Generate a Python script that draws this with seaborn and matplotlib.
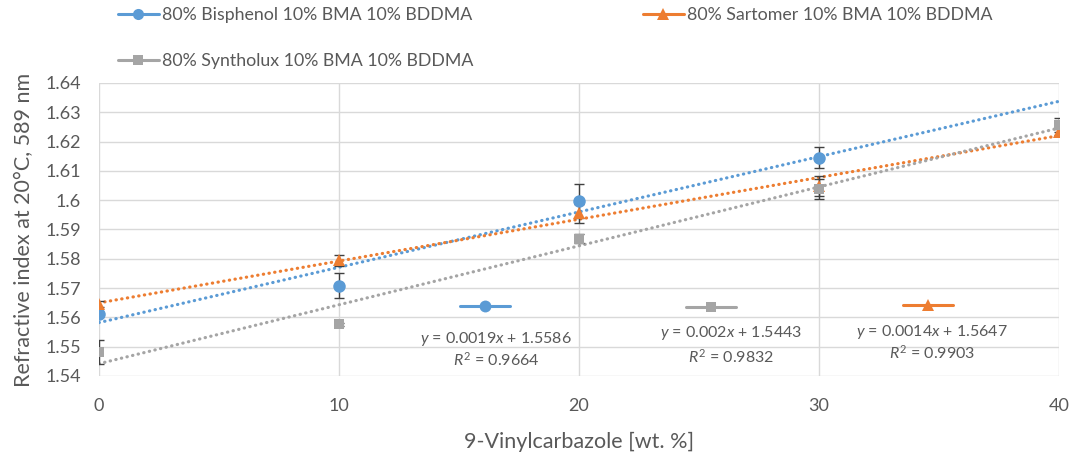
import matplotlib
matplotlib.use("Agg")
import matplotlib.pyplot as plt
from matplotlib.lines import Line2D
from matplotlib.ticker import FuncFormatter, MultipleLocator
import numpy as np
import pandas as pd
import seaborn as sns

# data
vc_content = [0, 10, 20, 30, 40]

bisphenol_x = [0, 10, 20, 30]
bisphenol_ri = [1.5612, 1.5708, 1.5997, 1.6145]
bisphenol_err = [0.0008, 0.0043, 0.0058, 0.0036]

sartomer_ri = [1.5645, 1.5795, 1.5955, 1.6048, 1.6232]
sartomer_err = [0.0010, 0.0018, 0.0032, 0.0033, 0.0010]

syntholux_ri = [1.5482, 1.5576, 1.5869, 1.6037, 1.6257]
syntholux_err = [0.0042, 0.0004, 0.0015, 0.0034, 0.0025]

series_names = [
    "80% Bisphenol 10% BMA 10% BDDMA",
    "80% Sartomer 10% BMA 10% BDDMA",
    "80% Syntholux 10% BMA 10% BDDMA",
]
fit_labels = [
    ("$y$ = 0.0019$x$ + 1.5586", "$R^2$ = 0.9664"),
    ("$y$ = 0.0014$x$ + 1.5647", "$R^2$ = 0.9903"),
    ("$y$ = 0.002$x$ + 1.5443", "$R^2$ = 0.9832"),
]

PALETTE = {"blue": "#5B9BD5", "orange": "#ED7D31", "gray": "#A5A5A5",
           "ink": "#595959", "grid": "#D9D9D9"}

sns.set_theme(style="whitegrid")
plt.rcParams.update({
    "font.family": ["Lato", "DejaVu Sans"],
    "mathtext.fontset": "custom",
    "mathtext.rm": "Lato",
    "mathtext.it": "Lato:italic",
    "axes.edgecolor": PALETTE["grid"],
    "grid.color": PALETTE["grid"],
    "grid.linewidth": 1.0,
    "xtick.color": PALETTE["ink"],
    "ytick.color": PALETTE["ink"],
    "axes.labelcolor": PALETTE["ink"],
    "text.color": PALETTE["ink"],
})

frames = [
    pd.DataFrame({"x": bisphenol_x, "ri": bisphenol_ri, "err": bisphenol_err}),
    pd.DataFrame({"x": vc_content, "ri": sartomer_ri, "err": sartomer_err}),
    pd.DataFrame({"x": vc_content, "ri": syntholux_ri, "err": syntholux_err}),
]
colors = [PALETTE["blue"], PALETTE["orange"], PALETTE["gray"]]
markers = ["o", "^", "s"]
msizes = [9, 9, 7.5]

fig = plt.figure(figsize=(10.73, 4.53), dpi=100)
ax = fig.add_axes([0.0923, 0.170, 0.8947, 0.6468])
ax.set_xlim(0, 40)
ax.set_ylim(1.54, 1.64)

# dotted linear trendlines across the whole axis
for df, c in zip(frames, colors):
    sns.regplot(data=df, x="x", y="ri", ax=ax, scatter=False, ci=None, truncate=False,
                line_kws={"color": c, "linestyle": (0, (0.1, 1.7)), "linewidth": 2.3,
                          "dash_capstyle": "round"})

for df, c, m, ms in zip(frames, colors, markers, msizes):
    ax.errorbar(df["x"], df["ri"], yerr=df["err"], fmt="none", ecolor="#404040",
                elinewidth=1.0, capsize=3.5, capthick=1.0, zorder=3)
    ax.plot(df["x"], df["ri"], linestyle="none", marker=m, markersize=ms, color=c,
            markeredgewidth=0, zorder=4)

ax.xaxis.set_major_locator(MultipleLocator(10))
ax.yaxis.set_major_locator(MultipleLocator(0.01))
ax.yaxis.set_major_formatter(FuncFormatter(lambda v, _: f"{round(v, 2):g}"))
ax.tick_params(axis="both", length=0, labelsize=13)
ax.tick_params(axis="y", pad=13)
ax.tick_params(axis="x", pad=16)
ax.set_xlabel("9-Vinylcarbazole [wt. %]", fontsize=15.5, labelpad=13)
ax.set_ylabel("Refractive index at 20°C, 589 nm", fontsize=15.5, labelpad=8)
for sp in ax.spines.values():
    sp.set_visible(False)

# trendline keys and equations inside the plot area (axes fractions)
key_pos = [(0.402, 0.239), (0.8635, 0.241), (0.637, 0.237)]
text_pos = [(0.4135, 0.126, 0.055), (0.8677, 0.150, 0.078), (0.6583, 0.147, 0.065)]
for c, m, ms, (kx, ky), (tx, ty1, ty2), (l1, l2) in zip(colors, markers, msizes, key_pos, text_pos, fit_labels):
    ax.plot([kx - 0.026, kx + 0.026], [ky, ky], transform=ax.transAxes, color=c, linewidth=2.2,
            clip_on=False, zorder=5)
    ax.plot([kx], [ky], transform=ax.transAxes, color=c, marker=m, markersize=ms * 0.95,
            markeredgewidth=0, clip_on=False, zorder=5)
    ax.text(tx, ty1, l1, transform=ax.transAxes, ha="center", va="center", fontsize=11.5)
    ax.text(tx, ty2, l2, transform=ax.transAxes, ha="center", va="center", fontsize=11.5)

handles = [
    Line2D([], [], color=colors[0], marker=markers[0], markersize=8, linewidth=2.2, markeredgewidth=0),
    Line2D([], [], color=colors[2], marker=markers[2], markersize=7, linewidth=2.2, markeredgewidth=0),
    Line2D([], [], color=colors[1], marker=markers[1], markersize=8, linewidth=2.2, markeredgewidth=0),
]
labels = [series_names[0], series_names[2], series_names[1]]
fig.legend(handles, labels, ncol=2, loc="upper left", bbox_to_anchor=(0.095, 1.02),
           frameon=False, fontsize=12.8, handlelength=2.3, handletextpad=0.2,
           columnspacing=9.5, labelspacing=1.7, labelcolor=PALETTE["ink"])

fig.savefig("out.png", dpi=100, facecolor="white")
